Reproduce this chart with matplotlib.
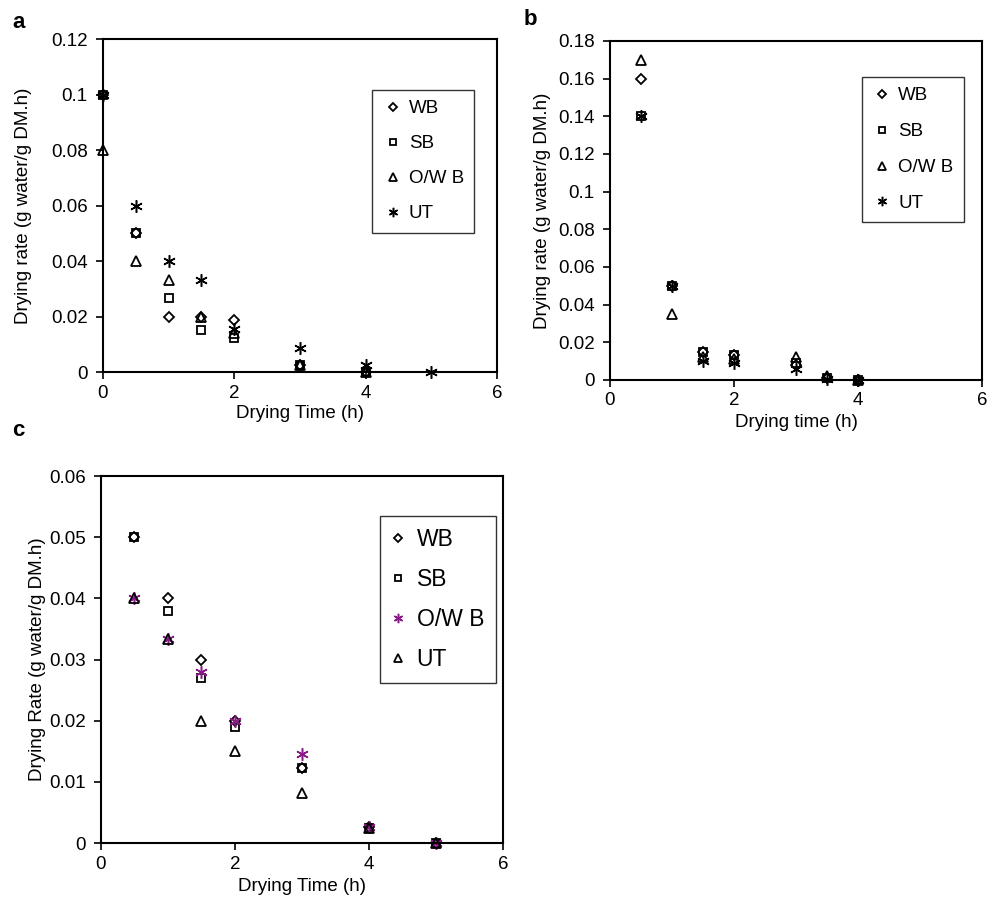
import numpy as np
import matplotlib.pyplot as plt
from matplotlib.ticker import FuncFormatter

plt.rcParams['font.family'] = ['Liberation Sans', 'DejaVu Sans']

# --- panel a ---
series_names_ab = ["WB", "SB", "O/W B", "UT"]
a_time = {
    "WB": [0, 0.5, 1, 1.5, 2, 3, 4],
    "SB": [0, 0.5, 1, 1.5, 2, 3, 4],
    "O/W B": [0, 0.5, 1, 1.5, 2, 3, 4],
    "UT": [0, 0.5, 1, 1.5, 2, 3, 4, 5],
}
a_rate = {
    "WB": [0.1, 0.05, 0.02, 0.02, 0.0188, 0.0025, 0],
    "SB": [0.1, 0.05, 0.0267, 0.015, 0.0123, 0.0025, 0],
    "O/W B": [0.08, 0.04, 0.0333, 0.02, 0.014, 0.0025, 0],
    "UT": [0.1, 0.06, 0.04, 0.0333, 0.0155, 0.0085, 0.0025, 0],
}

# --- panel b ---
b_time = [0.5, 1, 1.5, 2, 3, 3.5, 4]
b_rate = {
    "WB": [0.16, 0.05, 0.015, 0.013, 0.008, 0.001, 0],
    "SB": [0.14, 0.05, 0.015, 0.013, 0.009, 0.001, 0],
    "O/W B": [0.17, 0.035, 0.012, 0.011, 0.012, 0.002, 0],
    "UT": [0.14, 0.05, 0.01, 0.009, 0.006, 0.0005, 0],
}

# --- panel c ---
series_names_c = ["WB", "SB", "O/W B", "UT"]
c_time = [0.5, 1, 1.5, 2, 3, 4, 5]
c_rate = {
    "WB": [0.05, 0.04, 0.03, 0.02, 0.0122, 0.0027, 0],
    "SB": [0.05, 0.038, 0.027, 0.019, 0.0122, 0.0025, 0],
    "O/W B": [0.04, 0.0333, 0.028, 0.02, 0.0146, 0.0027, 0],
    "UT": [0.04, 0.0333, 0.02, 0.015, 0.0082, 0.0025, 0],
}

asterisk = (6, 2, 0)
style_ab = {
    "WB": dict(marker="D", ms=5.5, color="black", mew=1.3),
    "SB": dict(marker="s", ms=6, color="black", mew=1.3),
    "O/W B": dict(marker="^", ms=7.5, color="black", mew=1.3),
    "UT": dict(marker=asterisk, ms=9, color="black", mew=1.1),
}
style_c = {
    "WB": dict(marker="D", ms=5.5, color="black", mew=1.3),
    "SB": dict(marker="s", ms=6, color="black", mew=1.3),
    "O/W B": dict(marker=asterisk, ms=9, color="#8B1A89", mew=1.1),
    "UT": dict(marker="^", ms=7.5, color="black", mew=1.3),
}

fmt = FuncFormatter(lambda v, p: f"{v:g}")
FS = 13.5

fig = plt.figure(figsize=(9.95, 9.06), dpi=100)


def setup(ax, ymax, ystep, xlabel, ylabel, xl_pos, yl_pos):
    ax.set_xlim(0, 6)
    ax.set_ylim(0, ymax)
    ax.set_xticks([0, 2, 4, 6])
    ax.set_yticks(np.arange(0, ymax + ystep / 2, ystep))
    ax.xaxis.set_major_formatter(fmt)
    ax.yaxis.set_major_formatter(fmt)
    ax.tick_params(direction="out", length=5, width=1.2, labelsize=FS,
                   top=False, right=False)
    ax.tick_params(axis="y", pad=6)
    ax.tick_params(axis="x", pad=4)
    for s in ax.spines.values():
        s.set_linewidth(1.5)
    ax.set_xlabel(xlabel, fontsize=FS)
    ax.set_ylabel(ylabel, fontsize=FS)
    ax.xaxis.set_label_coords(0.5, xl_pos)
    ax.yaxis.set_label_coords(yl_pos, 0.5)


def draw(ax, xs, ys, st, label):
    ax.plot(xs, ys, linestyle="none", marker=st["marker"], ms=st["ms"],
            mfc="none", mec=st["color"], mew=st["mew"], label=label,
            clip_on=False)


def legend(ax, x, y, fs, spacing, pad, hl, htp):
    leg = ax.legend(loc="upper left", bbox_to_anchor=(x, y), fontsize=fs,
                    frameon=True, fancybox=False, edgecolor="black",
                    markerscale=0.75, handlelength=hl, handletextpad=htp,
                    labelspacing=spacing, borderpad=pad, borderaxespad=0)
    leg.get_frame().set_linewidth(1.0)


# panel a
ax_a = fig.add_axes([0.1035, 0.5894, 0.396, 0.3675])
for name in series_names_ab:
    draw(ax_a, a_time[name], a_rate[name], style_ab[name], name)
setup(ax_a, 0.12, 0.02, "Drying Time (h)", "Drying rate (g water/g DM.h)",
      -0.10, -0.18)
legend(ax_a, 0.683, 0.847, 13.5, 0.95, 0.55, 1.1, 0.3)

# panel b
ax_b = fig.add_axes([0.613, 0.5806, 0.3739, 0.3742])
for name in series_names_ab:
    draw(ax_b, b_time, b_rate[name], style_ab[name], name)
setup(ax_b, 0.18, 0.02, "Drying time (h)", "Drying rate (g water/g DM.h)",
      -0.10, -0.158)
legend(ax_b, 0.677, 0.894, 13.5, 1.0, 0.55, 1.1, 0.3)

# panel c
ax_c = fig.add_axes([0.1015, 0.0695, 0.404, 0.405])
for name in series_names_c:
    draw(ax_c, c_time, c_rate[name], style_c[name], name)
setup(ax_c, 0.06, 0.01, "Drying Time (h)", "Drying Rate (g water/g DM.h)",
      -0.095, -0.138)
legend(ax_c, 0.694, 0.891, 16.5, 0.75, 0.5, 0.6, 0.5)

fig.text(0.012, 0.975, "a", fontsize=16, fontweight="bold", va="center")
fig.text(0.526, 0.978, "b", fontsize=16, fontweight="bold", va="center")
fig.text(0.012, 0.525, "c", fontsize=16, fontweight="bold", va="center")

fig.savefig("out.png", dpi=100)
